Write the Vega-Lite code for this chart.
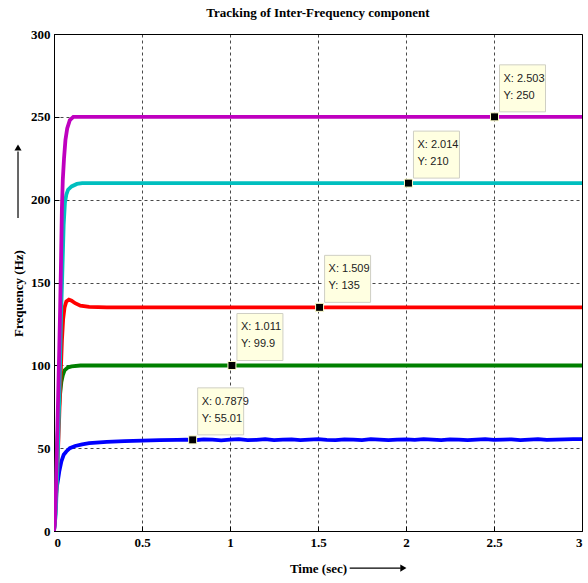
{
  "$schema": "https://vega.github.io/schema/vega-lite/v6.json",
  "autosize": {"type": "none"},
  "width": 528,
  "height": 497,
  "padding": {"left": 54, "top": 34, "right": 6, "bottom": 52},
  "background": "white",
  "title": {
    "text": "Tracking of Inter-Frequency component",
    "font": "Liberation Serif",
    "fontSize": 13,
    "fontWeight": "bold",
    "color": "black",
    "anchor": "middle",
    "offset": 8
  },
  "config": {
    "view": {"stroke": "black", "strokeWidth": 1},
    "axis": {
      "domainColor": "black",
      "domainWidth": 1,
      "tickColor": "black",
      "tickSize": -5,
      "labelFont": "Liberation Serif",
      "labelFontSize": 13,
      "labelFontWeight": "bold",
      "labelColor": "black",
      "titleFont": "Liberation Serif",
      "titleFontSize": 13,
      "titleFontWeight": "bold",
      "titleColor": "black",
      "grid": true,
      "gridColor": "black",
      "gridDash": [3, 3],
      "gridWidth": 0.8,
      "gridOpacity": 0.9
    }
  },
  "datasets": {
    "response": [
      {"s": "f55", "t": 0, "f": 0},
      {"s": "f55", "t": 0.004, "f": 5},
      {"s": "f55", "t": 0.008, "f": 18},
      {"s": "f55", "t": 0.015, "f": 26},
      {"s": "f55", "t": 0.023, "f": 31},
      {"s": "f55", "t": 0.03, "f": 36},
      {"s": "f55", "t": 0.042, "f": 42},
      {"s": "f55", "t": 0.055, "f": 46},
      {"s": "f55", "t": 0.07, "f": 48},
      {"s": "f55", "t": 0.09, "f": 50},
      {"s": "f55", "t": 0.12, "f": 51.3},
      {"s": "f55", "t": 0.16, "f": 52.3},
      {"s": "f55", "t": 0.2, "f": 53},
      {"s": "f55", "t": 0.3, "f": 53.8},
      {"s": "f55", "t": 0.4, "f": 54.3},
      {"s": "f55", "t": 0.5, "f": 54.6},
      {"s": "f55", "t": 0.6, "f": 54.8},
      {"s": "f55", "t": 0.7, "f": 55},
      {"s": "f55", "t": 0.75, "f": 55.2},
      {"s": "f55", "t": 0.7879, "f": 55.01},
      {"s": "f55", "t": 0.8, "f": 54.8},
      {"s": "f55", "t": 0.85, "f": 55.3},
      {"s": "f55", "t": 0.9, "f": 55.1},
      {"s": "f55", "t": 0.95, "f": 54.7},
      {"s": "f55", "t": 1.0, "f": 55.2},
      {"s": "f55", "t": 1.05, "f": 55.4},
      {"s": "f55", "t": 1.1, "f": 54.9},
      {"s": "f55", "t": 1.15, "f": 55.0},
      {"s": "f55", "t": 1.2, "f": 55.4},
      {"s": "f55", "t": 1.25, "f": 54.8},
      {"s": "f55", "t": 1.3, "f": 55.1},
      {"s": "f55", "t": 1.35, "f": 55.3},
      {"s": "f55", "t": 1.4, "f": 54.9},
      {"s": "f55", "t": 1.45, "f": 55.2},
      {"s": "f55", "t": 1.5, "f": 55.5},
      {"s": "f55", "t": 1.55, "f": 55.0},
      {"s": "f55", "t": 1.6, "f": 54.8},
      {"s": "f55", "t": 1.65, "f": 55.3},
      {"s": "f55", "t": 1.7, "f": 55.1},
      {"s": "f55", "t": 1.75, "f": 54.9},
      {"s": "f55", "t": 1.8, "f": 55.4},
      {"s": "f55", "t": 1.85, "f": 55.2},
      {"s": "f55", "t": 1.9, "f": 54.8},
      {"s": "f55", "t": 1.95, "f": 55.1},
      {"s": "f55", "t": 2.0, "f": 55.3},
      {"s": "f55", "t": 2.05, "f": 55.0},
      {"s": "f55", "t": 2.1, "f": 55.4},
      {"s": "f55", "t": 2.15, "f": 55.1},
      {"s": "f55", "t": 2.2, "f": 54.9},
      {"s": "f55", "t": 2.25, "f": 55.3},
      {"s": "f55", "t": 2.3, "f": 55.2},
      {"s": "f55", "t": 2.35, "f": 54.8},
      {"s": "f55", "t": 2.4, "f": 55.1},
      {"s": "f55", "t": 2.45, "f": 55.4},
      {"s": "f55", "t": 2.5, "f": 55.0},
      {"s": "f55", "t": 2.55, "f": 55.2},
      {"s": "f55", "t": 2.6, "f": 55.3},
      {"s": "f55", "t": 2.65, "f": 54.9},
      {"s": "f55", "t": 2.7, "f": 55.2},
      {"s": "f55", "t": 2.75, "f": 55.4},
      {"s": "f55", "t": 2.8, "f": 55.0},
      {"s": "f55", "t": 2.85, "f": 55.1},
      {"s": "f55", "t": 2.9, "f": 55.3},
      {"s": "f55", "t": 2.95, "f": 55.5},
      {"s": "f55", "t": 3.0, "f": 55.4},

      {"s": "f100", "t": 0, "f": 0},
      {"s": "f100", "t": 0.008, "f": 20},
      {"s": "f100", "t": 0.015, "f": 40},
      {"s": "f100", "t": 0.02, "f": 55},
      {"s": "f100", "t": 0.025, "f": 68},
      {"s": "f100", "t": 0.032, "f": 80},
      {"s": "f100", "t": 0.042, "f": 90},
      {"s": "f100", "t": 0.05, "f": 94},
      {"s": "f100", "t": 0.06, "f": 97},
      {"s": "f100", "t": 0.08, "f": 98.8},
      {"s": "f100", "t": 0.1, "f": 99.4},
      {"s": "f100", "t": 0.15, "f": 99.9},
      {"s": "f100", "t": 1.011, "f": 99.9},
      {"s": "f100", "t": 2.0, "f": 99.9},
      {"s": "f100", "t": 3.0, "f": 99.9},

      {"s": "f135", "t": 0, "f": 0},
      {"s": "f135", "t": 0.01, "f": 15},
      {"s": "f135", "t": 0.02, "f": 40},
      {"s": "f135", "t": 0.03, "f": 70},
      {"s": "f135", "t": 0.038, "f": 95},
      {"s": "f135", "t": 0.045, "f": 115},
      {"s": "f135", "t": 0.052, "f": 128},
      {"s": "f135", "t": 0.06, "f": 135},
      {"s": "f135", "t": 0.07, "f": 138.5},
      {"s": "f135", "t": 0.085, "f": 139.6},
      {"s": "f135", "t": 0.1, "f": 139},
      {"s": "f135", "t": 0.12, "f": 137.5},
      {"s": "f135", "t": 0.15, "f": 136},
      {"s": "f135", "t": 0.2, "f": 135.3},
      {"s": "f135", "t": 0.3, "f": 135},
      {"s": "f135", "t": 1.509, "f": 135},
      {"s": "f135", "t": 3.0, "f": 135},

      {"s": "f210", "t": 0, "f": 0},
      {"s": "f210", "t": 0.01, "f": 10},
      {"s": "f210", "t": 0.02, "f": 40},
      {"s": "f210", "t": 0.03, "f": 80},
      {"s": "f210", "t": 0.04, "f": 130},
      {"s": "f210", "t": 0.047, "f": 155},
      {"s": "f210", "t": 0.055, "f": 185},
      {"s": "f210", "t": 0.062, "f": 198},
      {"s": "f210", "t": 0.07, "f": 203},
      {"s": "f210", "t": 0.08, "f": 206},
      {"s": "f210", "t": 0.1, "f": 208},
      {"s": "f210", "t": 0.13, "f": 209.5},
      {"s": "f210", "t": 0.16, "f": 210},
      {"s": "f210", "t": 2.014, "f": 210},
      {"s": "f210", "t": 3.0, "f": 210},

      {"s": "f250", "t": 0, "f": 0},
      {"s": "f250", "t": 0.005, "f": 5},
      {"s": "f250", "t": 0.01, "f": 20},
      {"s": "f250", "t": 0.02, "f": 65},
      {"s": "f250", "t": 0.03, "f": 110},
      {"s": "f250", "t": 0.035, "f": 135},
      {"s": "f250", "t": 0.04, "f": 163},
      {"s": "f250", "t": 0.045, "f": 195},
      {"s": "f250", "t": 0.05, "f": 212},
      {"s": "f250", "t": 0.057, "f": 225},
      {"s": "f250", "t": 0.065, "f": 236},
      {"s": "f250", "t": 0.075, "f": 243},
      {"s": "f250", "t": 0.09, "f": 248},
      {"s": "f250", "t": 0.11, "f": 250},
      {"s": "f250", "t": 2.503, "f": 250},
      {"s": "f250", "t": 3.0, "f": 250}
    ],
    "tips": [
      {"t": 0.7879, "f": 55.01, "lx": "X: 0.7879", "ly": "Y: 55.01"},
      {"t": 1.011, "f": 99.9, "lx": "X: 1.011", "ly": "Y: 99.9"},
      {"t": 1.509, "f": 135, "lx": "X: 1.509", "ly": "Y: 135"},
      {"t": 2.014, "f": 210, "lx": "X: 2.014", "ly": "Y: 210"},
      {"t": 2.503, "f": 250, "lx": "X: 2.503", "ly": "Y: 250"}
    ],
    "shafts": [
      {"axis": "time", "t": 1.68, "t2": 1.97, "f": -22.4, "f2": -22.4},
      {"axis": "freq", "t": -0.2045, "t2": -0.2045, "f": 189, "f2": 229}
    ],
    "heads": [
      {"axis": "time", "t": 1.985, "f": -22.4, "dir": "triangle-right"},
      {"axis": "freq", "t": -0.2045, "f": 231.5, "dir": "triangle-up"}
    ]
  },
  "layer": [
    {
      "data": {"name": "response"},
      "mark": {"type": "line", "strokeWidth": 3.8, "clip": true, "interpolate": "linear"},
      "encoding": {
        "x": {
          "field": "t", "type": "quantitative",
          "scale": {"domain": [0, 3], "nice": false, "zero": false},
          "axis": {
            "values": [0, 0.5, 1, 1.5, 2, 2.5, 3],
            "format": "~g",
            "labelPadding": 10,
            "title": "Time (sec)",
            "titleBaseline": "middle",
            "titleY": 37
          }
        },
        "y": {
          "field": "f", "type": "quantitative",
          "scale": {"domain": [0, 300], "nice": false},
          "axis": {
            "values": [0, 50, 100, 150, 200, 250, 300],
            "format": "d",
            "labelPadding": 9,
            "title": "Frequency (Hz)",
            "titleBaseline": "middle",
            "titleAngle": -90,
            "titleX": -36,
            "titleY": 259
          }
        },
        "color": {
          "field": "s", "type": "nominal", "legend": null,
          "scale": {
            "domain": ["f55", "f100", "f135", "f210", "f250"],
            "range": ["#0000FF", "#008000", "#FF0000", "#00BFBF", "#BF00BF"]
          }
        },
        "order": {"field": "t", "type": "quantitative"}
      }
    },
    {
      "data": {"name": "shafts"},
      "mark": {"type": "rule", "color": "black", "strokeWidth": 1.2, "clip": false},
      "encoding": {
        "x": {"field": "t", "type": "quantitative"},
        "x2": {"field": "t2"},
        "y": {"field": "f", "type": "quantitative"},
        "y2": {"field": "f2"}
      }
    },
    {
      "data": {"name": "heads"},
      "mark": {"type": "point", "filled": true, "color": "black", "size": 50, "opacity": 1, "clip": false},
      "encoding": {
        "x": {"field": "t", "type": "quantitative"},
        "y": {"field": "f", "type": "quantitative"},
        "shape": {"field": "dir", "type": "nominal", "scale": null, "legend": null}
      }
    },
    {
      "data": {"name": "tips"},
      "mark": {"type": "rect", "fill": "#FFFFE1", "stroke": "#CFCFC4", "strokeWidth": 1, "xOffset": 5, "x2Offset": 51, "yOffset": -52, "y2Offset": -5},
      "encoding": {
        "x": {"field": "t", "type": "quantitative"},
        "x2": {"field": "t"},
        "y": {"field": "f", "type": "quantitative"},
        "y2": {"field": "f"}
      }
    },
    {
      "data": {"name": "tips"},
      "mark": {"type": "text", "font": "Liberation Sans", "fontSize": 11, "color": "#222222", "align": "left", "baseline": "middle", "dx": 9, "dy": -38},
      "encoding": {
        "x": {"field": "t", "type": "quantitative"},
        "y": {"field": "f", "type": "quantitative"},
        "text": {"field": "lx"}
      }
    },
    {
      "data": {"name": "tips"},
      "mark": {"type": "text", "font": "Liberation Sans", "fontSize": 11, "color": "#222222", "align": "left", "baseline": "middle", "dx": 9, "dy": -21},
      "encoding": {
        "x": {"field": "t", "type": "quantitative"},
        "y": {"field": "f", "type": "quantitative"},
        "text": {"field": "ly"}
      }
    },
    {
      "data": {"name": "tips"},
      "mark": {"type": "point", "shape": "square", "filled": true, "fill": "black", "stroke": "#FFFFCC", "strokeWidth": 1, "size": 64, "opacity": 1},
      "encoding": {
        "x": {"field": "t", "type": "quantitative"},
        "y": {"field": "f", "type": "quantitative"}
      }
    }
  ]
}
